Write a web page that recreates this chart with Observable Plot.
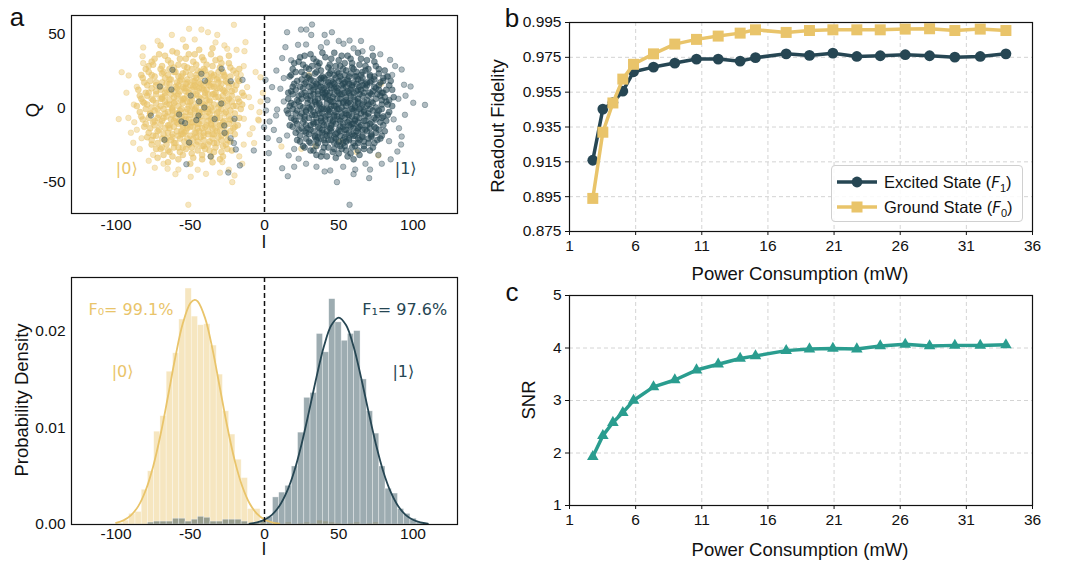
<!DOCTYPE html>
<html><head><meta charset="utf-8">
<script src="https://cdn.jsdelivr.net/npm/d3@7"></script>
<script src="https://cdn.jsdelivr.net/npm/@observablehq/plot@0.6"></script>
<style>
body{margin:0;background:#fff;}
#root{position:relative;width:1070px;height:561px;overflow:hidden;background:#fff;font-family:"Liberation Sans",Arial,Helvetica,sans-serif;color:#111;}
.t{position:absolute;white-space:nowrap;transform:translate(-50%,-50%);font-size:18.5px;line-height:1;}
.ti{line-height:0.75;font-size:17.5px;}
.rot{transform:translate(-50%,-50%) rotate(-90deg);}
.letter{position:absolute;white-space:nowrap;transform:translate(-50%,-50%);font-size:26px;line-height:1;}
.legend{position:absolute;box-sizing:border-box;border:1px solid #d0d0d0;border-radius:4px;background:rgba(255,255,255,0.85);}
.lrow{position:absolute;left:0;height:24px;width:100%;}
.lrow svg{position:absolute;left:4px;top:0;}
.lrow span{position:absolute;left:52px;top:3px;font-size:16.5px;white-space:nowrap;}
.lrow i{font-family:"DejaVu Sans",sans-serif;font-size:15px;}
.lrow sub{font-size:11px;}
</style></head>
<body><div id="root"></div>
<script>
// ---------------- colours ----------------
const DARK = "#264653", YELLOW = "#e9c46a", TEAL = "#2a9d8f";

// ---------------- panel a (top): IQ scatter ----------------
const iTicks = [-100, -50, 0, 50, 100];
const qTicks = [-50, 0, 50];
const state0Outer = [[-20.6,55.9],[-50.8,53.2],[-62.4,49.1],[-42.5,52.7],[-38.1,50.9],[-31.8,49.1],[-81.7,40.6],[-82.1,34.7],[-81.7,30],[-96.2,23.9],[-91.5,21.7],[-98.2,-7.8],[-91.7,-7],[-87.7,-9.9],[-88.4,-23.8],[-82.8,-20.7],[-73.9,-40.7],[-65.3,-41.4],[-58,-41.9],[-49.7,-46.8],[-51.3,-65.7],[-39.4,-44.8],[-28.4,-36.9],[-20.2,-45.9],[-21.7,-50.4],[-9,0.3],[-3.8,-8.7],[-13.9,-7.6],[-25.1,39.7],[-18.8,39],[-12.8,44.2],[-13.5,38.1],[-11.7,13.8],[-10.5,7],[-2.7,20.5],[-1.1,9.9],[-2.7,4.1],[-3.4,-3.1],[-4.3,-8.1],[-14,28],[-16,22],[-10,-18],[-14,-25],[-8,-14],[-17,-33],[-30,-44],[-45,-42],[-60,-45],[-68,-38],[-75,-32],[-86,-15],[-88,2],[-93,10],[-86,14],[-84,-28],[-78,-36],[-55,46],[-47,46],[-72,45],[-33,44],[-27,42],[-90,-17],[-6,24],[-7,-24],[-15,-38],[-24,-42]];
const state0Core = [[-78,28],[-74,33],[-70,26],[-67,35],[-63,30],[-60,24],[-57,33],[-54,28],[-51,36],[-48,31],[-45,25],[-42,34],[-39,29],[-36,23],[-33,32],[-30,27],[-27,21],[-24,30],[-21,25],[-18,19],
[-82,20],[-79,15],[-76,22],[-73,17],[-70,12],[-67,20],[-64,16],[-61,11],[-58,21],[-55,14],[-52,19],[-49,12],[-46,22],[-43,16],[-40,10],[-37,19],[-34,14],[-31,20],[-28,12],[-25,17],[-22,11],[-19,15],
[-84,8],[-81,3],[-78,10],[-75,5],[-72,-1],[-69,7],[-66,2],[-63,9],[-60,4],[-57,-2],[-54,6],[-51,1],[-48,8],[-45,3],[-42,-3],[-39,5],[-36,0],[-33,7],[-30,2],[-27,-4],[-24,6],[-21,1],[-17,4],
[-83,-6],[-80,-11],[-77,-4],[-74,-9],[-71,-15],[-68,-7],[-65,-12],[-62,-5],[-59,-10],[-56,-16],[-53,-8],[-50,-13],[-47,-6],[-44,-11],[-41,-17],[-38,-9],[-35,-14],[-32,-7],[-29,-12],[-26,-18],[-23,-8],[-20,-13],
[-79,-20],[-76,-25],[-73,-19],[-70,-28],[-67,-22],[-64,-30],[-61,-24],[-58,-19],[-55,-27],[-52,-21],[-49,-31],[-46,-25],[-43,-20],[-40,-28],[-37,-23],[-34,-30],[-31,-20],[-28,-26],[-25,-22],[-22,-29],
[-72,-34],[-65,-37],[-58,-35],[-50,-38],[-42,-35],[-35,-37],[-28,-33],[-62,38],[-53,41],[-44,39],[-35,40],[-70,42],
[-68,24],[-64,19],[-61,27],[-58,15],[-55,23],[-52,17],[-49,26],[-46,14],[-43,21],[-40,25],[-37,15],[-34,22],[-31,17],[-28,24],
[-69,6],[-66,12],[-62,0],[-59,13],[-56,5],[-53,11],[-50,-3],[-47,15],[-44,7],[-41,12],[-38,-1],[-35,9],[-32,13],[-29,5],[-26,10],
[-67,-4],[-64,-14],[-61,-9],[-58,-4],[-55,-12],[-52,-1],[-49,-10],[-46,-17],[-43,-6],[-40,-13],[-37,-4],[-34,-18],[-31,-3],[-28,-10],
[-66,-21],[-62,-18],[-58,-27],[-54,-17],[-50,-24],[-46,-20],[-42,-26],[-38,-18],[-34,-24],[-30,-16],
[-59,8],[-56,-6],[-53,13],[-50,4],[-47,-1],[-44,13],[-41,2],[-38,9],[-35,-7],[-57,18],[-48,18],[-39,17],[-55,-18],[-45,-14],[-36,-12],[-52,-14],[-62,-1],[-44,-3]];
const state0Core2 = [[-76,31],[-71,36],[-65,32],[-59,37],[-53,33],[-47,36],[-41,32],[-36,36],[-30,33],[-24,35],
[-80,26],[-75,29],[-69,28],[-64,26],[-58,29],[-52,27],[-46,29],[-41,26],[-35,28],[-29,30],[-23,27],[-17,26],
[-83,22],[-78,24],[-74,21],[-69,23],[-65,22],[-61,24],[-56,21],[-53,24],[-50,22],[-46,20],[-43,24],[-39,22],[-35,21],[-31,24],[-27,22],[-23,21],[-19,23],
[-81,17],[-77,18],[-73,15],[-69,17],[-66,16],[-63,19],[-59,17],[-56,19],[-53,16],[-50,15],[-47,18],[-44,17],[-41,15],[-38,18],[-35,16],[-32,19],[-29,16],[-26,18],[-22,16],[-17,18],
[-85,12],[-80,10],[-76,13],[-73,11],[-70,14],[-67,10],[-64,12],[-60,14],[-57,11],[-54,13],[-51,10],[-48,14],[-45,11],[-42,13],[-39,12],[-36,14],[-33,10],[-30,13],[-27,11],[-24,14],[-20,12],[-15,10],
[-83,6],[-79,8],[-76,6],[-73,9],[-70,6],[-67,8],[-64,5],[-61,7],[-58,9],[-55,6],[-52,8],[-49,5],[-46,9],[-43,6],[-40,8],[-37,5],[-34,9],[-31,7],[-28,8],[-25,5],[-22,8],[-18,6],[-14,8],
[-86,1],[-82,4],[-79,2],[-76,0],[-73,3],[-70,1],[-67,4],[-64,2],[-61,3],[-58,1],[-55,3],[-52,4],[-49,1],[-46,0],[-43,3],[-40,1],[-37,4],[-34,2],[-31,0],[-28,3],[-25,1],[-22,4],[-19,1],[-15,2],
[-84,-3],[-80,-1],[-77,-4],[-74,-2],[-71,-5],[-68,-1],[-65,-3],[-62,-2],[-59,-4],[-56,-1],[-53,-3],[-50,-5],[-47,-2],[-44,-4],[-41,-1],[-38,-3],[-35,-2],[-32,-4],[-29,-1],[-26,-3],[-23,-2],[-20,-4],[-16,-1],
[-82,-8],[-78,-7],[-75,-10],[-72,-7],[-69,-9],[-66,-6],[-63,-8],[-60,-7],[-57,-9],[-54,-6],[-51,-8],[-48,-10],[-45,-7],[-42,-9],[-39,-6],[-36,-8],[-33,-10],[-30,-7],[-27,-9],[-24,-6],[-21,-9],[-17,-7],
[-81,-13],[-77,-14],[-74,-12],[-70,-11],[-67,-14],[-64,-12],[-61,-13],[-58,-11],[-55,-14],[-52,-12],[-48,-13],[-45,-11],[-42,-14],[-39,-12],[-36,-11],[-33,-14],[-30,-12],[-27,-13],[-24,-11],[-21,-14],[-18,-12],
[-78,-17],[-75,-19],[-72,-16],[-68,-18],[-65,-17],[-62,-20],[-59,-16],[-56,-18],[-53,-16],[-50,-19],[-47,-17],[-44,-16],[-41,-19],[-38,-16],[-35,-18],[-32,-16],[-29,-19],[-26,-17],[-23,-16],[-20,-18],
[-76,-22],[-72,-24],[-69,-21],[-66,-25],[-63,-22],[-60,-24],[-57,-21],[-54,-23],[-51,-25],[-48,-21],[-45,-23],[-41,-22],[-38,-25],[-35,-21],[-32,-24],[-29,-22],[-26,-25],[-23,-23],
[-73,-28],[-69,-27],[-65,-29],[-61,-27],[-57,-30],[-53,-28],[-49,-27],[-45,-29],[-41,-26],[-37,-29],[-33,-27],[-29,-30],[-25,-28],
[-68,-32],[-62,-33],[-55,-32],[-48,-34],[-42,-32],[-36,-33],[-30,-35]];
const state0InOne = [[11.4,-26.3],[24.8,-27.9],[34.2,-26.1],[76.7,-32.4],[78.5,16],[51,-23],[30,22],[62,-30]];
const state1Outer = [[32,56.1],[24.6,52.7],[28.2,52.7],[15.2,50.9],[31.5,49.1],[40.5,49.1],[45.4,50.9],[57.3,45.3],[53.2,43.1],[14.1,40.8],[22.6,42.4],[28,42.6],[38,40.8],[72.5,40.1],[84.6,32.2],[11.9,33.4],[92.4,25.7],[82.3,21],[98.4,14.2],[94,15.4],[108.1,1.8],[100.2,3.2],[90.2,5.9],[94.6,-4.9],[90.6,-14],[92.4,-19.6],[83.9,-22.7],[89.5,-29.7],[76.7,-32],[79,-38],[71.1,-41.9],[70.5,-47.7],[61.1,-41.9],[48.8,-50.4],[57.3,-65.7],[44.3,-42.5],[40.5,-43.2],[15.7,-46.4],[11.9,-41],[23,-34.6],[16.3,-32.4],[2.9,-30.8],[2.2,-20.7],[6.3,-15.1],[3.4,-9.4],[8.5,-1.3],[5.1,13.8],[0.7,18.7],[13,19.9],[10.7,12.7],[7.8,-5.4],[13,4.1],[15.2,-18.9],[60,40],[66,38],[78,36],[88,28],[87,-8],[86,22],[92,-25],[60,-45],[53,-40],[35,-40],[28,-38],[20,-28],[10,-22],[8,25],[18,32],[42,44],[50,45],[65,45],[1,-2],[-0.3,-13.3],[2,5],[20,-40],[85,-35],[95,8],[68,-38]];
const state1Core = [[20,30],[24,34],[28,27],[31,36],[35,31],[38,25],[41,34],[44,29],[47,37],[50,32],[53,26],[56,35],[59,30],[62,24],[65,33],[68,28],[71,22],[74,31],[77,26],[80,20],
[18,22],[22,18],[25,24],[29,20],[32,15],[34,23],[37,19],[40,13],[43,22],[46,17],[49,24],[52,19],[55,14],[57,21],[60,17],[63,12],[66,20],[69,15],[72,18],[75,13],[78,17],[82,12],[85,18],
[16,10],[19,14],[23,8],[26,13],[29,6],[31,11],[34,4],[36,9],[39,7],[42,11],[44,5],[47,9],[49,13],[51,6],[54,10],[56,3],[58,8],[61,5],[64,9],[67,4],[70,8],[73,3],[76,9],[79,5],[83,2],[87,7],
[15,-2],[18,3],[21,-4],[24,1],[27,-6],[30,0],[33,-3],[35,2],[38,-7],[40,-1],[43,-5],[45,1],[48,-3],[50,-8],[52,0],[55,-4],[57,-9],[60,-2],[62,-6],[65,0],[68,-5],[71,-1],[74,-7],[77,-2],[80,-6],[84,-3],
[17,-12],[20,-8],[23,-15],[26,-10],[28,-17],[31,-12],[34,-19],[37,-14],[39,-10],[42,-16],[45,-12],[47,-20],[50,-15],[53,-11],[55,-18],[58,-13],[61,-19],[63,-10],[66,-15],[69,-12],[72,-18],[75,-14],[78,-10],[81,-16],
[22,-22],[26,-26],[30,-23],[33,-29],[36,-24],[40,-27],[43,-22],[46,-30],[49,-25],[52,-28],[55,-23],[58,-31],[61,-26],[64,-22],[67,-28],[70,-24],[73,-27],[76,-22],[60,-35],[48,-34],[38,-33],
[30,26],[33,18],[36,28],[39,21],[42,15],[45,25],[48,20],[51,28],[54,22],[57,16],[60,26],[63,19],[66,24],[69,17],
[31,8],[34,14],[37,2],[40,9],[43,17],[46,4],[49,11],[52,15],[55,7],[58,12],[61,1],[64,14],[67,10],[70,2],[73,11],
[32,-5],[35,-10],[38,-1],[41,-8],[44,-14],[47,-6],[50,-1],[53,-13],[56,-5],[59,-11],[62,-16],[65,-4],[68,-9],[71,-14],
[34,-20],[37,-17],[40,-22],[44,-18],[47,-24],[51,-19],[54,-26],[57,-21],[60,-14],[63,-24],[66,-19],
[27,16],[25,6],[28,-2],[29,-14],[74,21],[76,-5],[72,-20],[79,10],
[36,15],[39,12],[42,6],[45,18],[48,1],[51,9],[54,17],[57,4],[60,10],[63,3],[66,15],
[37,-4],[40,-12],[43,-2],[46,-9],[49,-17],[52,-6],[55,-15],[58,-1],[61,-9],[64,-13],[67,-2],
[38,20],[44,10],[50,23],[56,19],[62,21],[41,-18],[53,-22],[59,-18],[47,13],[53,3],[44,-1]];
const state1Core2 = [[23,31],[27,35],[33,33],[39,37],[45,33],[52,35],[58,33],[63,37],[69,32],[73,35],
[19,26],[26,29],[32,28],[37,30],[43,27],[48,28],[54,30],[59,27],[64,29],[70,26],[75,28],[81,25],
[17,21],[21,24],[27,22],[30,21],[35,24],[40,20],[44,23],[47,22],[51,21],[55,25],[58,23],[61,21],[65,22],[68,25],[71,21],[77,23],[83,21],
[20,16],[25,19],[28,17],[31,19],[35,16],[38,17],[41,19],[44,15],[47,16],[50,18],[53,16],[56,18],[59,15],[62,16],[65,18],[68,16],[71,17],[74,19],[77,15],[80,18],[84,15],
[18,11],[21,12],[24,14],[27,10],[30,14],[33,12],[36,11],[38,14],[41,10],[45,13],[48,14],[50,10],[53,13],[56,11],[59,14],[62,11],[65,12],[68,13],[71,10],[74,14],[77,12],[80,10],[86,12],
[16,6],[19,9],[22,5],[25,9],[28,8],[31,5],[33,9],[36,6],[39,10],[41,7],[43,8],[46,7],[49,6],[52,9],[55,5],[57,10],[60,7],[63,6],[66,8],[69,5],[72,9],[75,6],[78,8],[81,7],[84,5],
[17,1],[20,2],[23,4],[26,0],[29,3],[32,1],[34,5],[37,3],[39,0],[42,3],[45,4],[47,1],[50,3],[53,4],[55,1],[58,3],[61,0],[63,4],[66,2],[69,1],[72,4],[75,0],[79,2],[82,4],[86,1],
[16,-4],[19,-1],[22,-2],[25,-4],[28,-3],[31,-1],[34,-5],[36,-2],[39,-4],[42,-1],[44,-3],[47,-5],[49,-1],[52,-4],[54,-2],[57,-5],[59,-1],[62,-3],[64,-1],[67,-3],[70,-4],[73,-2],[76,-4],[79,-1],[83,-5],
[18,-7],[21,-9],[24,-6],[27,-8],[30,-7],[33,-10],[35,-7],[38,-9],[41,-6],[44,-8],[46,-10],[49,-6],[51,-9],[54,-7],[56,-10],[59,-6],[61,-8],[64,-7],[67,-9],[70,-6],[72,-10],[75,-8],[79,-7],[82,-9],
[19,-13],[22,-11],[25,-14],[28,-12],[31,-15],[33,-11],[36,-13],[39,-15],[42,-12],[45,-14],[48,-11],[51,-13],[54,-15],[57,-12],[60,-11],[63,-14],[65,-12],[68,-15],[71,-11],[74,-13],[77,-15],[80,-12],
[21,-17],[24,-19],[27,-16],[30,-18],[33,-16],[36,-20],[39,-17],[42,-19],[45,-16],[48,-18],[51,-16],[54,-20],[57,-17],[60,-19],[63,-17],[66,-20],[69,-16],[72,-19],[75,-17],[79,-19],
[24,-23],[28,-21],[31,-24],[35,-22],[38,-21],[41,-24],[45,-22],[48,-21],[50,-23],[53,-24],[57,-22],[60,-24],[63,-21],[67,-23],[70,-21],[74,-24],[78,-21],
[27,-27],[31,-29],[35,-26],[39,-30],[43,-27],[47,-28],[51,-26],[55,-29],[59,-27],[63,-29],[67,-26],[71,-29],
[35,-32],[42,-33],[50,-31],[56,-33],[64,-32]];
const state1InZero = [[-62,25.5],[-70.5,14.2],[-62.7,12.2],[-42.5,22.8],[-40.1,18.1],[-28.9,26.2],[-22.8,17.8],[-14.8,18.7],[-49.7,8.1],[-44.1,4.1],[-40.5,0],[-29.1,2.7],[-57.5,-4.7],[-44.5,-5.4],[-55.9,-9.4],[-53.5,-10.5],[-45.9,-8.5],[-33.6,-7.8],[-76.5,-5.4],[-27.1,-12.1],[-26.9,-17.1],[-20.2,-7.6],[-67.4,-21.8],[-50.8,-23.6],[-22.8,-20.7],[-20.6,-24],[-19.3,-28.3],[-7.2,-29],[-36.3,-33.1],[-52.6,-38.3],[-24.4,-43.9],[-16.6,-39.1]];
const scatterKets = [{i:-92.8, q:-41.4, t:"|0⟩", c:YELLOW},{i:95.1, q:-41.4, t:"|1⟩", c:DARK}];

// ---------------- panel a (bottom): histograms ----------------
const densTicks = [0, 0.01, 0.02];
const binLeft = [-99.5,-95.3,-91.1,-86.9,-82.7,-78.5,-74.3,-70.1,-65.9,-61.6,-57.4,-53.2,-49.0,-44.8,-40.6,-36.4,-32.2,-28.0,-23.8,-19.6,-15.4,-11.2,-7.0,-2.7,1.5,5.7,9.9,14.1,18.4,22.6,26.8,31.0,35.2,39.4,43.6,47.8,52.0,56.2,60.4,64.7,68.9,73.1,77.3,81.5,85.7,89.9,94.1,98.3,102.5,106.7];
const binRight = [-95.3,-91.1,-86.9,-82.7,-78.5,-74.3,-70.1,-65.9,-61.6,-57.4,-53.2,-49.0,-44.8,-40.6,-36.4,-32.2,-28.0,-23.8,-19.6,-15.4,-11.2,-7.0,-2.7,1.5,5.7,9.9,14.1,18.4,22.6,26.8,31.0,35.2,39.4,43.6,47.8,52.0,56.2,60.4,64.7,68.9,73.1,77.3,81.5,85.7,89.9,94.1,98.3,102.5,106.7,110.9];
const hist0 = [0.0001,0.0004,0.0011,0.0013,0.0036,0.0055,0.0096,0.0112,0.0158,0.0177,0.0212,0.0244,0.0215,0.0206,0.0207,0.0185,0.0155,0.0117,0.0093,0.0067,0.0048,0.0016,0.0016,0.0004,0.0001,0.0002,0,0.0002,0,0.0001,0.0002,0.0001,0.0004,0.0003,0.0002,0.0001,0,0.0001,0.0002,0,0.0001,0.0002,0,0,0,0,0,0,0,0];
const hist1 = [0,0,0,0,0,0.0002,0.0003,0.0003,0.0003,0.0006,0.0006,0.0003,0.0005,0.0008,0.0007,0.0003,0.0003,0.0005,0.0005,0.0005,0.0003,0.0001,0.0002,0.0004,0.0008,0.0028,0.0033,0.0040,0.0060,0.0095,0.0131,0.0136,0.0197,0.0178,0.0233,0.0209,0.0190,0.0197,0.0200,0.0150,0.0117,0.0094,0.0060,0.0037,0.0032,0.0016,0.0011,0.0006,0.0002,0];
const fit0I = [-100,-95,-90,-85,-80,-75,-70,-65,-60,-55,-50,-47,-45,-40,-35,-30,-25,-20,-15,-10,-5,0,5,10];
const fit0D = [0.00018,0.00043,0.00095,0.0019,0.00354,0.006,0.0093,0.01326,0.01734,0.0208,0.02287,0.02323,0.02307,0.02134,0.01811,0.01409,0.01006,0.00658,0.00395,0.00217,0.0011,0.00051,0.00022,0.00008];
const fit1I = [-10,-5,0,5,10,15,20,25,30,35,40,45,50,55,60,65,70,75,80,85,90,95,100,105,110];
const fit1D = [0.000093,0.00022,0.00049,0.001,0.00191,0.00337,0.00549,0.00833,0.0117,0.01523,0.0184,0.0206,0.0214,0.0206,0.0184,0.01523,0.0117,0.00833,0.00549,0.00337,0.00191,0.001,0.00049,0.00022,0.000093];
const histNotes = [
  {i:-118.6, d:0.0222, t:"F₀= 99.1%", c:YELLOW, a:"start"},
  {i:65.8,  d:0.0222, t:"F₁= 97.6%", c:DARK,   a:"start"},
  {i:-95.6, d:0.0158, t:"|0⟩", c:YELLOW, a:"middle"},
  {i:93.5,  d:0.0158, t:"|1⟩", c:DARK,   a:"middle"}];

// ---------------- panels b, c ----------------
const powerTicks = [1, 6, 11, 16, 21, 26, 31, 36];
const fidTicks = [0.875, 0.895, 0.915, 0.935, 0.955, 0.975, 0.995];
const snrTicks = [1, 2, 3, 4, 5];
const power = [2.76,3.52,4.28,5.03,5.84,7.35,8.96,10.60,12.24,13.90,15.06,17.38,19.14,20.91,22.72,24.49,26.38,28.22,30.13,32.05,33.99];
const fidelityExcited = [0.9159,0.9453,0.949,0.9556,0.9667,0.9694,0.9717,0.974,0.974,0.9728,0.9748,0.977,0.9761,0.9774,0.9755,0.9759,0.9765,0.9759,0.9751,0.9755,0.977];
const fidelityGround = [0.894,0.932,0.9488,0.9625,0.971,0.977,0.9826,0.9853,0.9872,0.9889,0.9908,0.9893,0.9904,0.9908,0.9908,0.9908,0.9912,0.9914,0.9904,0.9912,0.9904];
const snr = [1.93,2.33,2.58,2.77,3.0,3.26,3.39,3.58,3.69,3.80,3.85,3.95,3.98,3.99,3.98,4.04,4.07,4.04,4.05,4.05,4.06];

// ---------------- build ----------------
const root = document.getElementById("root");
const FONT = '"Liberation Sans", Arial, Helvetica, sans-serif';
const style = {fontFamily: FONT, fontSize: "15.5px", background: "transparent", color: "#111", overflow: "visible"};
function place(el, left, top) { el.style.position = "absolute"; el.style.left = left + "px"; el.style.top = top + "px"; root.appendChild(el); }
function html(cls, txt, x, y) { const d = document.createElement("div"); d.className = cls; d.innerHTML = txt; d.style.left = x + "px"; d.style.top = y + "px"; root.appendChild(d); }
const plain = d => String(d);
const frame = () => Plot.frame({stroke: "#111", strokeWidth: 1.2});
const dashed0 = () => Plot.ruleX([0], {stroke: "#111", strokeWidth: 1.5, strokeDasharray: "5,3"});
const px = d => d[0], py = d => d[1];

const pA1 = Plot.plot({
  width: 470, height: 250, marginLeft: 71, marginRight: 13, marginTop: 15, marginBottom: 37, style,
  x: {domain: [-130, 130], ticks: iTicks, tickFormat: plain, tickSize: 0, tickPadding: 5, label: null},
  y: {domain: [-71.6, 62.2], ticks: qTicks, tickFormat: plain, tickSize: 0, tickPadding: 6, label: null},
  marks: [
    Plot.dot([...state0Outer, ...state0InOne], {x: px, y: py, r: 2.8, fill: YELLOW, fillOpacity: 0.42, stroke: YELLOW, strokeOpacity: 0.55, strokeWidth: 0.6}),
    Plot.dot([...state0Core, ...state0Core2], {x: px, y: py, r: 3, fill: YELLOW, fillOpacity: 0.62, stroke: YELLOW, strokeOpacity: 0.65, strokeWidth: 0.6}),
    Plot.dot([...state1Outer, ...state1InZero], {x: px, y: py, r: 2.8, fill: DARK, fillOpacity: 0.36, stroke: DARK, strokeOpacity: 0.55, strokeWidth: 0.6}),
    Plot.dot([...state1Core, ...state1Core2], {x: px, y: py, r: 3, fill: DARK, fillOpacity: 0.58, stroke: DARK, strokeOpacity: 0.65, strokeWidth: 0.6}),
    dashed0(),
    Plot.text(scatterKets, {x: "i", y: "q", text: "t", fill: "c", fontSize: 16, fontFamily: "DejaVu Sans, sans-serif"}),
    frame()
  ]
});
place(pA1, 0, 0);

const bins = binLeft.map((l, k) => ({x1: l, x2: binRight[k], h0: hist0[k], h1: hist1[k]}));
const fit0 = fit0I.map((v, k) => ({i: v, d: fit0D[k]}));
const fit1 = fit1I.map((v, k) => ({i: v, d: fit1D[k]}));
const pA2 = Plot.plot({
  width: 470, height: 300, marginLeft: 71, marginRight: 13, marginTop: 17, marginBottom: 36, style,
  x: {domain: [-130, 130], ticks: iTicks, tickFormat: plain, tickSize: 0, tickPadding: 3, label: null},
  y: {domain: [0, 0.02554], ticks: densTicks, tickFormat: d3.format(".2f"), tickSize: 0, tickPadding: 6, label: null},
  marks: [
    Plot.rectY(bins, {x1: "x1", x2: "x2", y: "h0", fill: YELLOW, fillOpacity: 0.42, stroke: "#fff", strokeOpacity: 0.6, strokeWidth: 0.6}),
    Plot.rectY(bins, {x1: "x1", x2: "x2", y: "h1", fill: DARK, fillOpacity: 0.45, stroke: "#fff", strokeOpacity: 0.6, strokeWidth: 0.6}),
    Plot.line(fit0, {x: "i", y: "d", stroke: YELLOW, strokeWidth: 1.8, curve: "catmull-rom"}),
    Plot.line(fit1, {x: "i", y: "d", stroke: DARK, strokeWidth: 1.8, curve: "catmull-rom"}),
    dashed0(),
    Plot.text(histNotes, {x: "i", y: "d", text: "t", fill: "c", textAnchor: "start", fontSize: 16, fontFamily: "DejaVu Sans, sans-serif", filter: d => d.a === "start"}),
    Plot.text(histNotes, {x: "i", y: "d", text: "t", fill: "c", textAnchor: "middle", fontSize: 16, fontFamily: "DejaVu Sans, sans-serif", filter: d => d.a === "middle"}),
    frame()
  ]
});
place(pA2, 0, 260);

const rowsB = power.map((p, k) => ({p, e: fidelityExcited[k], g: fidelityGround[k], s: snr[k]}));
const grid = (xt, yt) => [
  Plot.ruleX(xt, {stroke: "#cfcfcf", strokeWidth: 0.9, strokeDasharray: "4,3"}),
  Plot.ruleY(yt, {stroke: "#cfcfcf", strokeWidth: 0.9, strokeDasharray: "4,3"})
];
const pB = Plot.plot({
  width: 590, height: 284, marginLeft: 89, marginRight: 38, marginTop: 22, marginBottom: 53, style,
  x: {domain: [1, 36], ticks: powerTicks, tickFormat: plain, tickSize: 4, tickPadding: 4, label: null},
  y: {domain: [0.875, 0.995], ticks: fidTicks, tickFormat: d3.format(".3f"), tickSize: 4, tickPadding: 4, label: null},
  marks: [
    ...grid(powerTicks, fidTicks),
    Plot.line(rowsB, {x: "p", y: "e", stroke: DARK, strokeWidth: 3.5}),
    Plot.dot(rowsB, {x: "p", y: "e", r: 5.4, fill: DARK, symbol: "circle"}),
    Plot.line(rowsB, {x: "p", y: "g", stroke: YELLOW, strokeWidth: 3.5}),
    Plot.dot(rowsB, {x: "p", y: "g", r: 6.2, fill: YELLOW, symbol: "square"}),
    frame()
  ]
});
place(pB, 480, 0);

const pC = Plot.plot({
  width: 590, height: 277, marginLeft: 89, marginRight: 38, marginTop: 11, marginBottom: 56, style,
  x: {domain: [1, 36], ticks: powerTicks, tickFormat: plain, tickSize: 4, tickPadding: 4, label: null},
  y: {domain: [1, 5], ticks: snrTicks, tickFormat: plain, tickSize: 4, tickPadding: 4, label: null},
  marks: [
    ...grid(powerTicks, snrTicks),
    Plot.line(rowsB, {x: "p", y: "s", stroke: TEAL, strokeWidth: 3.5}),
    Plot.dot(rowsB, {x: "p", y: "s", r: 4.3, fill: TEAL, symbol: "triangle"}),
    frame()
  ]
});
place(pC, 480, 284);

// axis titles & panel letters
html("t rot", "Q", 33, 110);
html("t ti", "I", 264, 243);
html("t rot", "Probability Density", 22, 400);
html("t ti", "I", 264, 550);
html("t rot", "Readout Fidelity", 498, 126);
html("t", "Power Consumption (mW)", 800, 274);
html("t rot", "SNR", 529, 400);
html("t", "Power Consumption (mW)", 800, 550);
html("letter", "a", 17, 17);
html("letter", "b", 512, 18);
html("letter", "c", 512, 292);

// legend for panel b
const lg = document.createElement("div");
lg.className = "legend";
Object.assign(lg.style, {left: "831px", top: "165px", width: "192px", height: "57px"});
lg.innerHTML =
  `<div class="lrow" style="top:4px"><svg width="42" height="24"><line x1="1" x2="41" y1="12" y2="12" stroke="${DARK}" stroke-width="3.5"/><circle cx="21" cy="12" r="5.4" fill="${DARK}"/></svg><span>Excited State (<i>F</i><sub>1</sub>)</span></div>` +
  `<div class="lrow" style="top:29px"><svg width="42" height="24"><line x1="1" x2="41" y1="12" y2="12" stroke="${YELLOW}" stroke-width="3.5"/><rect x="15.5" y="6.5" width="11" height="11" fill="${YELLOW}"/></svg><span>Ground State (<i>F</i><sub>0</sub>)</span></div>`;
root.appendChild(lg);
</script>
</body></html>
